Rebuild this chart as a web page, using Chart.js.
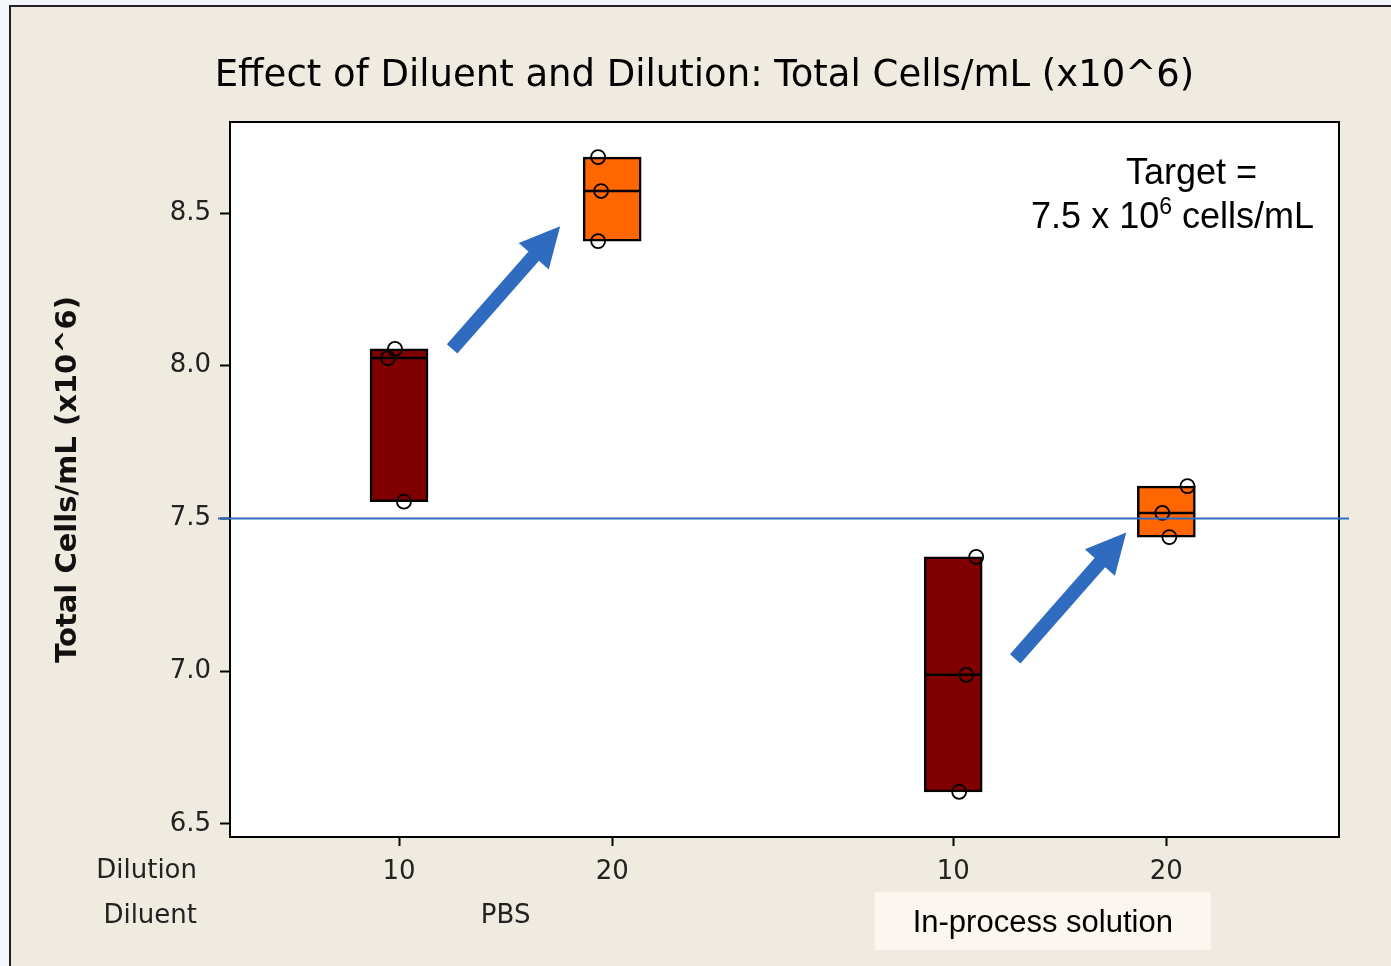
<!DOCTYPE html>
<html>
<head>
<meta charset="utf-8">
<script src="https://cdn.jsdelivr.net/npm/chart.js@4/dist/chart.umd.min.js"></script>
<style>
  html, body { margin: 0; padding: 0; }
  body { width: 1391px; height: 966px; background: #f3f7fb; position: relative; overflow: hidden; }
  #frame { position: absolute; left: 9px; top: 5px; right: 0; bottom: 0; background: #efebe1;
           border-left: 2px solid #222; border-top: 2px solid #222; }
  #chart { position: absolute; left: 0; top: 0; }
</style>
</head>
<body>
<div id="frame"></div>
<canvas id="chart" width="1391" height="966"></canvas>
<script>
// group positions on the x axis (Dilution within Diluent)
const groupPos       = [1, 2, 3.6, 4.6];
const dilutionLabels = ['10', '20', '10', '20'];
const diluentLabels  = ['PBS', 'In-process solution'];
const diluentPos     = [1.5, 4.1];
const yTicks         = [6.5, 7.0, 7.5, 8.0, 8.5];
const target         = 7.5;

// individual observations (Total Cells/mL x10^6) and their jitter
const pbs10   = [8.055, 8.025, 7.555];
const pbs10J  = [-0.019, -0.052, 0.023];
const pbs20   = [8.683, 8.572, 8.408];
const pbs20J  = [-0.066, -0.052, -0.066];
const ips10   = [7.374, 6.988, 6.605];
const ips10J  = [0.108, 0.061, 0.028];
const ips20   = [7.606, 7.518, 7.439];
const ips20J  = [0.099, -0.019, 0.014];

// arrows: [x1, y1, x2, y2] in data units
const arrows = [
  [1.249, 8.055, 1.756, 8.457],
  [3.891, 7.040, 4.412, 7.454],
];

const groups = [pbs10, pbs20, ips10, ips20];
const jitter = [pbs10J, pbs20J, ips10J, ips20J];
const median = a => [...a].sort((p, q) => p - q)[Math.floor(a.length / 2)];
const boxOf  = i => ({ x: groupPos[i], y: [Math.min(...groups[i]), Math.max(...groups[i])] });

const points = [];
groups.forEach((g, i) => g.forEach((v, k) => points.push({ x: groupPos[i] + jitter[i][k], y: v })));

const TICK_FONT = { family: 'DejaVu Sans', size: 26 };
const BLUE = '#2f6cbf';

function drawArrow(ctx, x1, y1, x2, y2) {
  const ang = Math.atan2(y2 - y1, x2 - x1);
  const len = Math.hypot(x2 - x1, y2 - y1);
  const hl = 40, hw = 40, sw = 14;
  ctx.save();
  ctx.translate(x1, y1);
  ctx.rotate(ang);
  ctx.beginPath();
  ctx.moveTo(0, -sw / 2);
  ctx.lineTo(len - hl, -sw / 2);
  ctx.lineTo(len - hl, -hw / 2);
  ctx.lineTo(len, 0);
  ctx.lineTo(len - hl, hw / 2);
  ctx.lineTo(len - hl, sw / 2);
  ctx.lineTo(0, sw / 2);
  ctx.closePath();
  ctx.fillStyle = BLUE;
  ctx.fill();
  ctx.restore();
}

const extras = {
  id: 'extras',
  beforeDatasetsDraw(chart) {
    const { ctx, chartArea: a } = chart;
    ctx.save();
    ctx.fillStyle = '#fff';
    ctx.fillRect(a.left, a.top, a.right - a.left, a.bottom - a.top);
    ctx.restore();
  },
  afterDatasetsDraw(chart) {
    const { ctx, chartArea: a, scales: { x, y } } = chart;
    ctx.save();
    // plot frame
    ctx.strokeStyle = '#000';
    ctx.lineWidth = 2;
    ctx.strokeRect(a.left, a.top, a.right - a.left, a.bottom - a.top);

    // target line
    const ty = y.getPixelForValue(target);
    ctx.strokeStyle = BLUE;
    ctx.lineWidth = 2;
    ctx.beginPath();
    ctx.moveTo(a.left - 12, ty);
    ctx.lineTo(a.right + 10, ty);
    ctx.stroke();

    // arrows
    arrows.forEach(r => drawArrow(ctx,
      x.getPixelForValue(r[0]), y.getPixelForValue(r[1]),
      x.getPixelForValue(r[2]), y.getPixelForValue(r[3])));

    // target annotation
    ctx.fillStyle = '#000';
    ctx.textAlign = 'right';
    ctx.textBaseline = 'alphabetic';
    ctx.font = '36px "Liberation Sans", Arial, sans-serif';
    ctx.fillText('Target =', a.right - 82, a.top + 62);
    const r2 = a.right - 25, b2 = a.top + 106;
    const tail = ' cells/mL';
    ctx.fillText(tail, r2, b2);
    let xx = r2 - ctx.measureText(tail).width;
    ctx.font = '23px "Liberation Sans", Arial, sans-serif';
    ctx.fillText('6', xx, b2 - 14);
    xx -= ctx.measureText('6').width;
    ctx.font = '36px "Liberation Sans", Arial, sans-serif';
    ctx.fillText('7.5 x 10', xx, b2);

    // row labels under the axis
    ctx.font = '26px "DejaVu Sans"';
    ctx.fillStyle = '#222';
    ctx.textBaseline = 'middle';
    ctx.textAlign = 'right';
    ctx.fillText('Dilution', 197, 871);
    ctx.fillText('Diluent', 197, 916);

    ctx.textAlign = 'center';
    ctx.fillText(diluentLabels[0], x.getPixelForValue(diluentPos[0]), 916);

    const cx = x.getPixelForValue(diluentPos[1]) - 17;
    ctx.fillStyle = '#fcf6f0';
    ctx.fillRect(cx - 168, 892, 336, 58);
    ctx.fillStyle = '#000';
    ctx.font = '31px "Liberation Sans", Arial, sans-serif';
    ctx.fillText(diluentLabels[1], cx, 923);
    ctx.restore();
  }
};

new Chart(document.getElementById('chart'), {
  type: 'scatter',
  data: {
    datasets: [
      {
        type: 'bar',
        label: 'Dilution 10',
        data: [boxOf(0), boxOf(2)],
        backgroundColor: '#800000',
        borderColor: '#000',
        borderWidth: 2.5,
        borderSkipped: false,
        barThickness: 58,
        grouped: false,
        order: 3,
      },
      {
        type: 'bar',
        label: 'Dilution 20',
        data: [boxOf(1), boxOf(3)],
        backgroundColor: '#ff6600',
        borderColor: '#000',
        borderWidth: 2.5,
        borderSkipped: false,
        barThickness: 58,
        grouped: false,
        order: 3,
      },
      {
        label: 'Median',
        data: groups.map((g, i) => ({ x: groupPos[i], y: median(g) })),
        pointStyle: 'line',
        pointRadius: 28,
        borderColor: '#000',
        borderWidth: 2.5,
        order: 2,
      },
      {
        label: 'Observations',
        data: points,
        pointStyle: 'circle',
        pointRadius: 7,
        backgroundColor: 'rgba(0,0,0,0)',
        borderColor: '#000',
        borderWidth: 1.8,
        order: 1,
      },
    ],
  },
  options: {
    responsive: false,
    animation: false,
    events: [],
    layout: { padding: { left: 70, right: 52, top: 0, bottom: 0 } },
    plugins: {
      legend: { display: false },
      tooltip: { enabled: false },
      title: {
        display: true,
        text: 'Effect of Diluent and Dilution: Total Cells/mL (x10^6)',
        color: '#000',
        font: { family: 'DejaVu Sans', size: 37, weight: 'normal' },
        padding: { top: 54, bottom: 23.6 },
      },
    },
    scales: {
      x: {
        type: 'linear',
        min: 0.207,
        max: 5.41,
        offset: false,
        afterFit: s => { s.height = 129; },
        afterBuildTicks: s => { s.ticks = groupPos.map(v => ({ value: v })); },
        grid: { drawOnChartArea: false, offset: false, tickLength: 9, color: '#000', tickWidth: 2 },
        border: { display: true, color: '#000', width: 2 },
        ticks: {
          autoSkip: false,
          maxRotation: 0,
          padding: 11,
          color: '#222',
          font: TICK_FONT,
          callback: v => dilutionLabels[groupPos.indexOf(v)] ?? '',
        },
      },
      y: {
        min: 6.457,
        max: 8.798,
        afterFit: s => { s.width = 160; },
        afterBuildTicks: s => { s.ticks = yTicks.map(v => ({ value: v })); },
        grid: { drawOnChartArea: false, tickLength: 10, color: '#000', tickWidth: 2 },
        border: { display: true, color: '#000', width: 2 },
        ticks: {
          padding: 9,
          color: '#222',
          font: TICK_FONT,
          callback: v => Number(v).toFixed(1),
        },
        title: {
          display: true,
          text: 'Total Cells/mL (x10^6)',
          color: '#111',
          font: { family: 'DejaVu Sans', size: 29, weight: 'bold' },
          padding: { top: -19, bottom: 0 },
        },
      },
    },
  },
  plugins: [extras],
});
</script>
</body>
</html>
